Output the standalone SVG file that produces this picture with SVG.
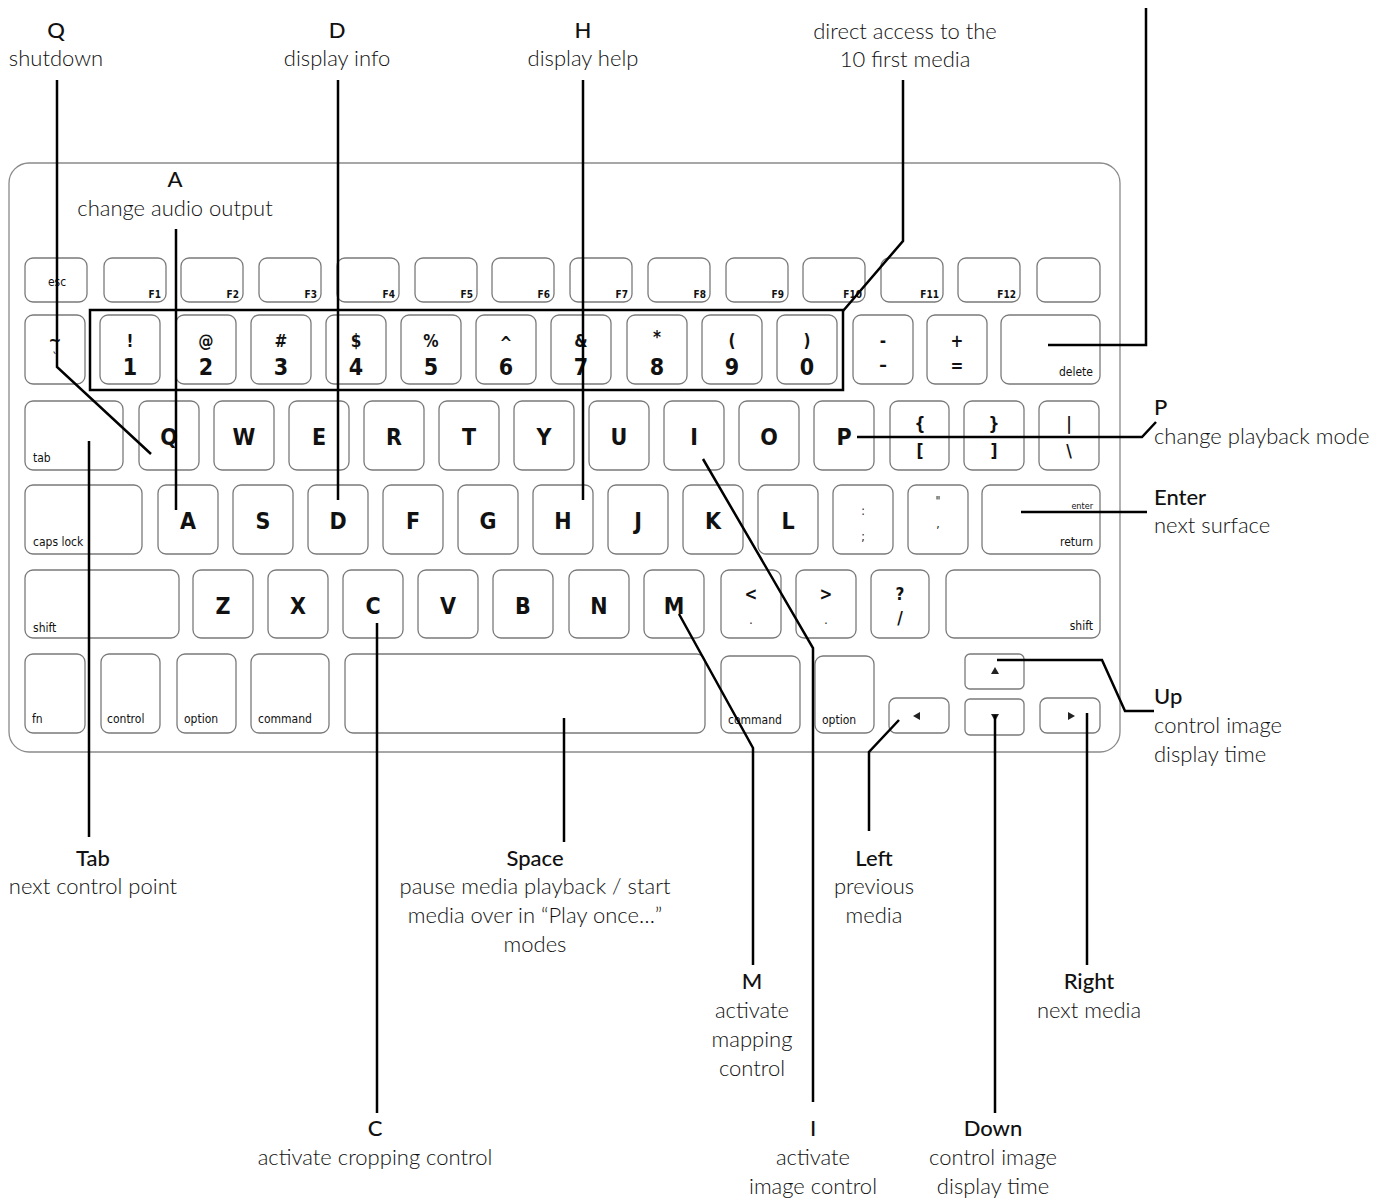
<svg xmlns="http://www.w3.org/2000/svg" width="1400" height="1201" viewBox="0 0 1400 1201">
<style>
.kb{fill:#fff;stroke:#8a8a8a;stroke-width:1.3}
.k{fill:#fff;stroke:#7a7a7a;stroke-width:1.3}
.kt{font-family:"DejaVu Sans Condensed","Liberation Sans Narrow","DejaVu Sans",sans-serif;font-weight:bold;fill:#111;text-anchor:middle}
.L{font-size:23px}
.S{font-size:17px}
.m{font-size:12px;font-weight:normal}
.ml{text-anchor:start}
.mr{text-anchor:end}
.f{font-size:10px;text-anchor:end}
.hl{fill:none;stroke:#000;stroke-width:2.5}
.c{fill:none;stroke:#000;stroke-width:2.5;stroke-linejoin:miter}
.t{font-family:Lato,"Open Sans","Liberation Sans",sans-serif;font-size:22px;fill:#111;text-anchor:middle}
.tl{text-anchor:start}
.ti{font-weight:500}
.d{font-weight:300}
.ar{fill:#222}
</style>
<rect width="1400" height="1201" fill="#fff"/>
<g id="keyboard">
<rect class="kb" x="9" y="163" width="1111" height="589" rx="20"/>
<g id="row-fn">
<g id="key-esc"><rect class="k" x="25" y="258" width="62" height="44" rx="8"/><text class="kt m" x="57" y="286">esc</text></g>
<g id="key-f1"><rect class="k" x="104" y="258" width="62" height="44" rx="8"/><text class="kt f" x="161" y="298">F1</text></g>
<g id="key-f2"><rect class="k" x="181" y="258" width="62" height="44" rx="8"/><text class="kt f" x="239" y="298">F2</text></g>
<g id="key-f3"><rect class="k" x="259" y="258" width="62" height="44" rx="8"/><text class="kt f" x="317" y="298">F3</text></g>
<g id="key-f4"><rect class="k" x="337" y="258" width="62" height="44" rx="8"/><text class="kt f" x="395" y="298">F4</text></g>
<g id="key-f5"><rect class="k" x="415" y="258" width="62" height="44" rx="8"/><text class="kt f" x="473" y="298">F5</text></g>
<g id="key-f6"><rect class="k" x="492" y="258" width="62" height="44" rx="8"/><text class="kt f" x="550" y="298">F6</text></g>
<g id="key-f7"><rect class="k" x="570" y="258" width="62" height="44" rx="8"/><text class="kt f" x="628" y="298">F7</text></g>
<g id="key-f8"><rect class="k" x="648" y="258" width="62" height="44" rx="8"/><text class="kt f" x="706" y="298">F8</text></g>
<g id="key-f9"><rect class="k" x="726" y="258" width="62" height="44" rx="8"/><text class="kt f" x="784" y="298">F9</text></g>
<g id="key-f10"><rect class="k" x="803" y="258" width="62" height="44" rx="8"/><text class="kt f" x="862" y="298">F10</text></g>
<g id="key-f11"><rect class="k" x="881" y="258" width="62" height="44" rx="8"/><text class="kt f" x="939" y="298">F11</text></g>
<g id="key-f12"><rect class="k" x="958" y="258" width="62" height="44" rx="8"/><text class="kt f" x="1016" y="298">F12</text></g>
<g id="key-eject"><rect class="k" x="1037" y="258" width="63" height="44" rx="8"/></g>
</g>
<g id="row-num">
<g id="key-tilde"><rect class="k" x="25" y="315" width="60" height="69" rx="8"/><text class="kt S" x="55" y="346">~</text><text class="kt m" x="55" y="362">`</text></g>
<g id="key-1"><rect class="k" x="100" y="315" width="60" height="69" rx="8"/><text class="kt S" x="130" y="347">!</text><text class="kt L" x="130" y="375">1</text></g>
<g id="key-2"><rect class="k" x="176" y="315" width="60" height="69" rx="8"/><text class="kt S" x="206" y="347">@</text><text class="kt L" x="206" y="375">2</text></g>
<g id="key-3"><rect class="k" x="251" y="315" width="60" height="69" rx="8"/><text class="kt S" x="281" y="347">#</text><text class="kt L" x="281" y="375">3</text></g>
<g id="key-4"><rect class="k" x="326" y="315" width="60" height="69" rx="8"/><text class="kt S" x="356" y="347">$</text><text class="kt L" x="356" y="375">4</text></g>
<g id="key-5"><rect class="k" x="401" y="315" width="60" height="69" rx="8"/><text class="kt S" x="431" y="347">%</text><text class="kt L" x="431" y="375">5</text></g>
<g id="key-6"><rect class="k" x="476" y="315" width="60" height="69" rx="8"/><text class="kt S" x="506" y="349">^</text><text class="kt L" x="506" y="375">6</text></g>
<g id="key-7"><rect class="k" x="551" y="315" width="60" height="69" rx="8"/><text class="kt S" x="581" y="347">&amp;</text><text class="kt L" x="581" y="375">7</text></g>
<g id="key-8"><rect class="k" x="627" y="315" width="60" height="69" rx="8"/><text class="kt S" x="657" y="343">*</text><text class="kt L" x="657" y="375">8</text></g>
<g id="key-9"><rect class="k" x="702" y="315" width="60" height="69" rx="8"/><text class="kt S" x="732" y="347">(</text><text class="kt L" x="732" y="375">9</text></g>
<g id="key-0"><rect class="k" x="777" y="315" width="60" height="69" rx="8"/><text class="kt S" x="807" y="347">)</text><text class="kt L" x="807" y="375">0</text></g>
<g id="key-minus"><rect class="k" x="853" y="315" width="60" height="69" rx="8"/><text class="kt S" x="883" y="347">-</text><text class="kt S" x="883" y="371">–</text></g>
<g id="key-equal"><rect class="k" x="927" y="315" width="60" height="69" rx="8"/><text class="kt S" x="957" y="347">+</text><text class="kt S" x="957" y="372">=</text></g>
<g id="key-delete"><rect class="k" x="1001" y="315" width="99" height="69" rx="8"/><text class="kt m mr" x="1093" y="376">delete</text></g>
</g>
<g id="row-q">
<g id="key-tab"><rect class="k" x="25" y="401" width="98" height="69" rx="8"/><text class="kt m ml" x="33" y="462">tab</text></g>
<g id="key-q"><rect class="k" x="139" y="401" width="60" height="69" rx="8"/><text class="kt L" x="169" y="445">Q</text></g>
<g id="key-w"><rect class="k" x="214" y="401" width="60" height="69" rx="8"/><text class="kt L" x="244" y="445">W</text></g>
<g id="key-e"><rect class="k" x="289" y="401" width="60" height="69" rx="8"/><text class="kt L" x="319" y="445">E</text></g>
<g id="key-r"><rect class="k" x="364" y="401" width="60" height="69" rx="8"/><text class="kt L" x="394" y="445">R</text></g>
<g id="key-t"><rect class="k" x="439" y="401" width="60" height="69" rx="8"/><text class="kt L" x="469" y="445">T</text></g>
<g id="key-y"><rect class="k" x="514" y="401" width="60" height="69" rx="8"/><text class="kt L" x="544" y="445">Y</text></g>
<g id="key-u"><rect class="k" x="589" y="401" width="60" height="69" rx="8"/><text class="kt L" x="619" y="445">U</text></g>
<g id="key-i"><rect class="k" x="664" y="401" width="60" height="69" rx="8"/><text class="kt L" x="694" y="445">I</text></g>
<g id="key-o"><rect class="k" x="739" y="401" width="60" height="69" rx="8"/><text class="kt L" x="769" y="445">O</text></g>
<g id="key-p"><rect class="k" x="814" y="401" width="60" height="69" rx="8"/><text class="kt L" x="844" y="445">P</text></g>
<g id="key-lbracket"><rect class="k" x="890" y="401" width="59" height="69" rx="8"/><text class="kt S" x="920" y="430">{</text><text class="kt S" x="920" y="457">[</text></g>
<g id="key-rbracket"><rect class="k" x="964" y="401" width="60" height="69" rx="8"/><text class="kt S" x="994" y="430">}</text><text class="kt S" x="994" y="457">]</text></g>
<g id="key-backslash"><rect class="k" x="1039" y="401" width="60" height="69" rx="8"/><text class="kt S" x="1069" y="430">|</text><text class="kt S" x="1069" y="457">\</text></g>
</g>
<g id="row-a">
<g id="key-caps"><rect class="k" x="25" y="485" width="117" height="69" rx="8"/><text class="kt m ml" x="33" y="546">caps lock</text></g>
<g id="key-a"><rect class="k" x="158" y="485" width="60" height="69" rx="8"/><text class="kt L" x="188" y="529">A</text></g>
<g id="key-s"><rect class="k" x="233" y="485" width="60" height="69" rx="8"/><text class="kt L" x="263" y="529">S</text></g>
<g id="key-d"><rect class="k" x="308" y="485" width="60" height="69" rx="8"/><text class="kt L" x="338" y="529">D</text></g>
<g id="key-f"><rect class="k" x="383" y="485" width="60" height="69" rx="8"/><text class="kt L" x="413" y="529">F</text></g>
<g id="key-g"><rect class="k" x="458" y="485" width="60" height="69" rx="8"/><text class="kt L" x="488" y="529">G</text></g>
<g id="key-h"><rect class="k" x="533" y="485" width="60" height="69" rx="8"/><text class="kt L" x="563" y="529">H</text></g>
<g id="key-j"><rect class="k" x="608" y="485" width="60" height="69" rx="8"/><text class="kt L" x="638" y="529">J</text></g>
<g id="key-k"><rect class="k" x="683" y="485" width="60" height="69" rx="8"/><text class="kt L" x="713" y="529">K</text></g>
<g id="key-l"><rect class="k" x="758" y="485" width="60" height="69" rx="8"/><text class="kt L" x="788" y="529">L</text></g>
<g id="key-semicolon"><rect class="k" x="833" y="485" width="60" height="69" rx="8"/><text class="kt m" x="863" y="515">:</text><text class="kt m" x="863" y="541">;</text></g>
<g id="key-quote"><rect class="k" x="908" y="485" width="60" height="69" rx="8"/><text class="kt m" x="938" y="505">"</text><text class="kt m" x="938" y="528">,</text></g>
<g id="key-return"><rect class="k" x="982" y="485" width="118" height="69" rx="8"/><text class="kt mr" style="font-size:9px;font-weight:normal" x="1093" y="509">enter</text><text class="kt m mr" x="1093" y="546">return</text></g>
</g>
<g id="row-z">
<g id="key-lshift"><rect class="k" x="25" y="570" width="154" height="68" rx="8"/><text class="kt m ml" x="33" y="632">shift</text></g>
<g id="key-z"><rect class="k" x="193" y="570" width="60" height="68" rx="8"/><text class="kt L" x="223" y="614">Z</text></g>
<g id="key-x"><rect class="k" x="268" y="570" width="60" height="68" rx="8"/><text class="kt L" x="298" y="614">X</text></g>
<g id="key-c"><rect class="k" x="343" y="570" width="60" height="68" rx="8"/><text class="kt L" x="373" y="614">C</text></g>
<g id="key-v"><rect class="k" x="418" y="570" width="60" height="68" rx="8"/><text class="kt L" x="448" y="614">V</text></g>
<g id="key-b"><rect class="k" x="493" y="570" width="60" height="68" rx="8"/><text class="kt L" x="523" y="614">B</text></g>
<g id="key-n"><rect class="k" x="569" y="570" width="60" height="68" rx="8"/><text class="kt L" x="599" y="614">N</text></g>
<g id="key-m"><rect class="k" x="644" y="570" width="60" height="68" rx="8"/><text class="kt L" x="674" y="614">M</text></g>
<g id="key-comma"><rect class="k" x="721" y="570" width="60" height="68" rx="8"/><text class="kt S" x="751" y="600">&lt;</text><text class="kt m" x="751" y="624">.</text></g>
<g id="key-period"><rect class="k" x="796" y="570" width="60" height="68" rx="8"/><text class="kt S" x="826" y="600">&gt;</text><text class="kt m" x="826" y="624">.</text></g>
<g id="key-slash"><rect class="k" x="871" y="570" width="58" height="68" rx="8"/><text class="kt S" x="900" y="600">?</text><text class="kt S" x="900" y="624">/</text></g>
<g id="key-rshift"><rect class="k" x="946" y="570" width="154" height="68" rx="8"/><text class="kt m mr" x="1093" y="630">shift</text></g>
</g>
<g id="row-bottom">
<g id="key-fn"><rect class="k" x="25" y="654" width="60" height="79" rx="8"/><text class="kt m ml" x="32" y="723">fn</text></g>
<g id="key-control"><rect class="k" x="101" y="654" width="59" height="79" rx="8"/><text class="kt m ml" x="107" y="723">control</text></g>
<g id="key-loption"><rect class="k" x="177" y="654" width="59" height="79" rx="8"/><text class="kt m ml" x="184" y="723">option</text></g>
<g id="key-lcommand"><rect class="k" x="251" y="654" width="78" height="79" rx="8"/><text class="kt m ml" x="258" y="723">command</text></g>
<g id="key-space"><rect class="k" x="345" y="654" width="360" height="79" rx="8"/></g>
<g id="key-rcommand"><rect class="k" x="721" y="656" width="79" height="77" rx="8"/><text class="kt m ml" x="728" y="724">command</text></g>
<g id="key-roption"><rect class="k" x="815" y="656" width="59" height="77" rx="8"/><text class="kt m ml" x="822" y="724">option</text></g>
<g id="key-left"><rect class="k" x="889" y="698" width="60" height="35" rx="7"/><polygon class="ar" points="913,716 920,712 920,720"/></g>
<g id="key-up"><rect class="k" x="965" y="654" width="59" height="35" rx="5"/><polygon class="ar" points="995,667 991,674 999,674"/></g>
<g id="key-down"><rect class="k" x="965" y="699" width="59" height="36" rx="5"/><polygon class="ar" points="995,721 991,714 999,714"/></g>
<g id="key-right"><rect class="k" x="1040" y="698" width="60" height="35" rx="7"/><polygon class="ar" points="1075,716 1068,712 1068,720"/></g>
</g>
<rect id="digits-highlight" class="hl" x="90" y="310" width="753" height="80"/>
</g>
<g id="connectors">
<path class="c" d="M57,80 V367 L151,454"/>
<path class="c" d="M338,80 V500"/>
<path class="c" d="M583,80 V500"/>
<path class="c" d="M176,229 V510"/>
<path class="c" d="M903,80 V241 L843,311"/>
<path class="c" d="M1146,8 V345 H1048"/>
<path class="c" d="M857,437 H1142 L1156,422"/>
<path class="c" d="M1021,512 H1147"/>
<path class="c" d="M997,660 H1102 L1125,711 H1154"/>
<path class="c" d="M1087,713 V965"/>
<path class="c" d="M995,715 V1113"/>
<path class="c" d="M899,720 L869,752 V831"/>
<path class="c" d="M703,459 L813,648 V1102"/>
<path class="c" d="M679,614 L753,748 V965"/>
<path class="c" d="M564,718 V842"/>
<path class="c" d="M377,623 V1113"/>
<path class="c" d="M89,441 V837"/>
</g>
<g id="label-q"><text class="t ti" x="56" y="38">Q</text><text class="t d" x="56" y="66">shutdown</text></g>
<g id="label-d"><text class="t ti" x="337" y="38">D</text><text class="t d" x="337" y="66">display info</text></g>
<g id="label-h"><text class="t ti" x="583" y="38">H</text><text class="t d" x="583" y="66">display help</text></g>
<g id="label-digits"><text class="t d" x="905" y="39">direct access to the</text><text class="t d" x="905" y="67">10 first media</text></g>
<g id="label-a"><text class="t ti" x="175" y="187">A</text><text class="t d" x="175" y="216">change audio output</text></g>
<g id="label-p"><text class="t ti tl" x="1154" y="415">P</text><text class="t d tl" x="1154" y="444">change playback mode</text></g>
<g id="label-enter"><text class="t ti tl" x="1154" y="505">Enter</text><text class="t d tl" x="1154" y="533">next surface</text></g>
<g id="label-up"><text class="t ti tl" x="1154" y="704">Up</text><text class="t d tl" x="1154" y="733">control image</text><text class="t d tl" x="1154" y="762">display time</text></g>
<g id="label-tab"><text class="t ti" x="93" y="866">Tab</text><text class="t d" x="93" y="894">next control point</text></g>
<g id="label-space"><text class="t ti" x="535" y="866">Space</text><text class="t d" x="535" y="894">pause media playback / start</text><text class="t d" x="535" y="923">media over in “Play once…”</text><text class="t d" x="535" y="952">modes</text></g>
<g id="label-left"><text class="t ti" x="874" y="866">Left</text><text class="t d" x="874" y="894">previous</text><text class="t d" x="874" y="923">media</text></g>
<g id="label-m"><text class="t ti" x="752" y="989">M</text><text class="t d" x="752" y="1018">activate</text><text class="t d" x="752" y="1047">mapping</text><text class="t d" x="752" y="1076">control</text></g>
<g id="label-right"><text class="t ti" x="1089" y="989">Right</text><text class="t d" x="1089" y="1018">next media</text></g>
<g id="label-c"><text class="t ti" x="375" y="1136">C</text><text class="t d" x="375" y="1165">activate cropping control</text></g>
<g id="label-i"><text class="t ti" x="813" y="1136">I</text><text class="t d" x="813" y="1165">activate</text><text class="t d" x="813" y="1194">image control</text></g>
<g id="label-down"><text class="t ti" x="993" y="1136">Down</text><text class="t d" x="993" y="1165">control image</text><text class="t d" x="993" y="1194">display time</text></g>
</svg>
